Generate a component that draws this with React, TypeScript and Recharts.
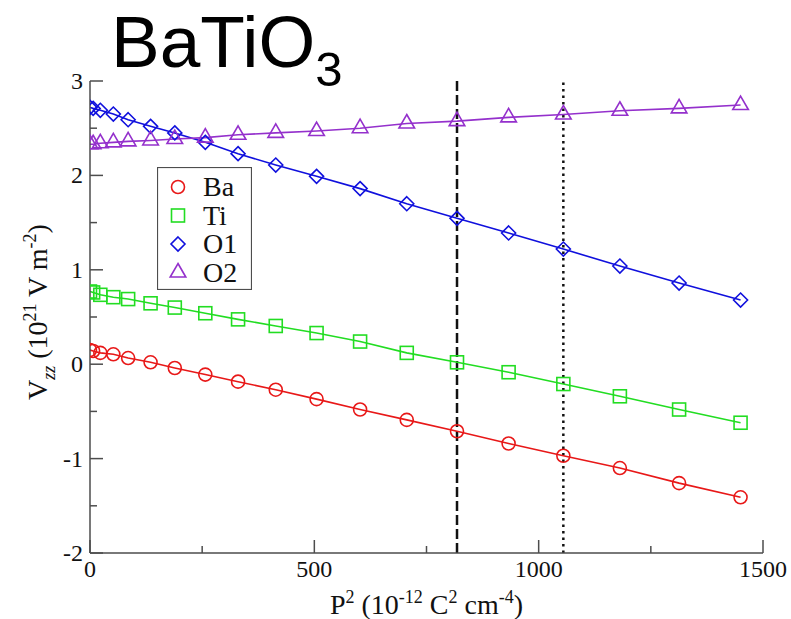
import { LineChart, Line, XAxis, YAxis, ReferenceLine, Legend, Label } from 'recharts'

const P2 = [0, 7, 23, 52, 85, 135, 189, 257, 330, 414, 505, 602, 706, 818, 933, 1055, 1181, 1313, 1450]
const BA = [0.15, 0.14, 0.12, 0.105, 0.065, 0.02, -0.04, -0.11, -0.185, -0.27, -0.37, -0.48, -0.59, -0.71, -0.84, -0.97, -1.1, -1.26, -1.41]
const TI = [0.77, 0.76, 0.735, 0.71, 0.69, 0.645, 0.6, 0.54, 0.475, 0.405, 0.33, 0.24, 0.12, 0.02, -0.085, -0.21, -0.34, -0.48, -0.62]
const O1 = [2.72, 2.71, 2.69, 2.65, 2.59, 2.52, 2.45, 2.35, 2.23, 2.11, 1.99, 1.86, 1.7, 1.545, 1.39, 1.22, 1.04, 0.86, 0.68]
const O2 = [2.33, 2.33, 2.34, 2.35, 2.36, 2.37, 2.385, 2.4, 2.43, 2.45, 2.47, 2.5, 2.55, 2.575, 2.615, 2.645, 2.685, 2.71, 2.745]

const X_TICKS = [0, 250, 500, 750, 1000, 1250, 1500]
const Y_TICKS = [-2, -1.5, -1, -0.5, 0, 0.5, 1, 1.5, 2, 2.5, 3]
const DASHED_AT = 818
const DOTTED_AT = 1055

const SERIES = [
  { key: 'Ba', color: '#e81818', shape: 'circle' },
  { key: 'Ti', color: '#22dd22', shape: 'square' },
  { key: 'O1', color: '#1010dd', shape: 'diamond' },
  { key: 'O2', color: '#9430cc', shape: 'triangle' },
]

const data = P2.map((p, i) => ({ p2: p, Ba: BA[i], Ti: TI[i], O1: O1[i], O2: O2[i] }))

const SERIF = '"Liberation Serif", "DejaVu Serif", serif'
const SANS = '"Liberation Sans", Arial, sans-serif'
const AXIS = '#4d4d4d'

function Marker({ shape, cx, cy, color }: { shape: string; cx: number; cy: number; color: string }) {
  const sw = 1.6
  if (shape === 'circle') return <circle cx={cx} cy={cy} r={6.5} fill="none" stroke={color} strokeWidth={sw} />
  if (shape === 'square') return <rect x={cx - 6.5} y={cy - 6.5} width={13} height={13} fill="none" stroke={color} strokeWidth={sw} />
  if (shape === 'diamond')
    return <polygon points={`${cx},${cy - 7} ${cx + 7},${cy} ${cx},${cy + 7} ${cx - 7},${cy}`} fill="none" stroke={color} strokeWidth={sw} />
  const s = 9
  return (
    <polygon
      points={`${cx},${cy - s} ${cx + s * 0.866},${cy + s / 2} ${cx - s * 0.866},${cy + s / 2}`}
      fill="none"
      stroke={color}
      strokeWidth={sw}
    />
  )
}

const isMajorX = (v: number) => v % 500 === 0
const isMajorY = (v: number) => Number.isInteger(v)

function BottomTick({ x, y, payload }: any) {
  const major = isMajorX(payload.value)
  return (
    <g>
      <line x1={x} y1={y} x2={x} y2={y - (major ? 13 : 7)} stroke={AXIS} strokeWidth={1.5} />
      {major && (
        <text x={x} y={y + 24} textAnchor="middle" fontSize={24} fontFamily={SERIF} fill="#111">
          {payload.value}
        </text>
      )}
    </g>
  )
}

function TopTick({ x, y, payload }: any) {
  const major = isMajorX(payload.value)
  return <line x1={x} y1={y} x2={x} y2={y + (major ? 13 : 7)} stroke={AXIS} strokeWidth={1.5} />
}

function LeftTick({ x, y, payload }: any) {
  const major = isMajorY(payload.value)
  return (
    <g>
      <line x1={x} y1={y} x2={x + (major ? 13 : 7)} y2={y} stroke={AXIS} strokeWidth={1.5} />
      {major && (
        <text x={x - 7} y={y + 8} textAnchor="end" fontSize={24} fontFamily={SERIF} fill="#111">
          {payload.value}
        </text>
      )}
    </g>
  )
}

function RightTick({ x, y, payload }: any) {
  const major = isMajorY(payload.value)
  return <line x1={x} y1={y} x2={x - (major ? 13 : 7)} y2={y} stroke={AXIS} strokeWidth={1.5} />
}

function YTitle({ viewBox }: any) {
  const cx = viewBox.x + 37
  const cy = viewBox.y + viewBox.height / 2 - 5
  return (
    <text x={cx} y={cy} transform={`rotate(-90 ${cx} ${cy})`} textAnchor="middle" fontSize={28} fontFamily={SERIF} fill="#111">
      V
      <tspan dy={8} fontSize={18} fontStyle="italic">zz</tspan>
      <tspan dy={-8}> (10</tspan>
      <tspan dy={-11} fontSize={18}>21</tspan>
      <tspan dy={11}> V m</tspan>
      <tspan dy={-11} fontSize={18}>-2</tspan>
      <tspan dy={11}>)</tspan>
    </text>
  )
}

function XTitle({ viewBox }: any) {
  const cx = viewBox.x + viewBox.width / 2
  const cy = viewBox.y + 61
  return (
    <text x={cx} y={cy} textAnchor="middle" fontSize={28} fontFamily={SERIF} fill="#111">
      P
      <tspan dy={-11} fontSize={18}>2</tspan>
      <tspan dy={11}> (10</tspan>
      <tspan dy={-11} fontSize={18}>-12</tspan>
      <tspan dy={11}> C</tspan>
      <tspan dy={-11} fontSize={18}>2</tspan>
      <tspan dy={11}> cm</tspan>
      <tspan dy={-11} fontSize={18}>-4</tspan>
      <tspan dy={11}>)</tspan>
    </text>
  )
}

function LegendBox() {
  return (
    <svg width={95} height={123} style={{ display: 'block' }}>
      <rect x={0.5} y={0.5} width={94} height={122} fill="#fff" stroke={AXIS} strokeWidth={1.2} />
      {SERIES.map((s, i) => {
        const cy = 20 + i * 28.5
        return (
          <g key={s.key}>
            <Marker shape={s.shape} cx={21} cy={cy} color={s.color} />
            <text x={46} y={cy + 9} fontSize={28} fontFamily={SERIF} fill="#111">
              {s.key}
            </text>
          </g>
        )
      })}
    </svg>
  )
}

export default function App() {
  return (
    <div style={{ position: 'absolute', left: 0, top: 0, width: 791, height: 619, background: '#fff' }}>
      <LineChart width={791} height={619} data={data} margin={{ top: 81, right: 28, bottom: 6, left: 10 }}>
        <XAxis
          dataKey="p2"
          type="number"
          domain={[0, 1500]}
          ticks={X_TICKS}
          interval={0}
          tickSize={0}
          tickMargin={0}
          tick={BottomTick}
          height={60}
          axisLine={{ stroke: AXIS, strokeWidth: 1.5 }}
          allowDataOverflow
        >
          <Label content={XTitle} />
        </XAxis>
        <XAxis
          xAxisId="top"
          orientation="top"
          type="number"
          domain={[0, 1500]}
          ticks={X_TICKS}
          interval={0}
          tickSize={0}
          tickMargin={0}
          tick={TopTick}
          height={0}
          axisLine={{ stroke: AXIS, strokeWidth: 1.5 }}
          allowDataOverflow
        />
        <YAxis
          type="number"
          domain={[-2, 3]}
          ticks={Y_TICKS}
          interval={0}
          tickSize={0}
          tickMargin={0}
          tick={LeftTick}
          width={80}
          axisLine={{ stroke: AXIS, strokeWidth: 1.5 }}
          allowDataOverflow
        >
          <Label content={YTitle} />
        </YAxis>
        <YAxis
          yAxisId="right"
          orientation="right"
          type="number"
          domain={[-2, 3]}
          ticks={Y_TICKS}
          interval={0}
          tickSize={0}
          tickMargin={0}
          tick={RightTick}
          width={0}
          axisLine={{ stroke: AXIS, strokeWidth: 1.5 }}
          allowDataOverflow
        />
        <ReferenceLine x={DASHED_AT} stroke="#111" strokeWidth={2.5} strokeDasharray="10 4" />
        <ReferenceLine x={DOTTED_AT} stroke="#111" strokeWidth={2.5} strokeDasharray="2.5 4" />
        {SERIES.map((s) => (
          <Line
            key={s.key}
            dataKey={s.key}
            type="linear"
            stroke={s.color}
            strokeWidth={1.6}
            isAnimationActive={false}
            dot={(p: any) => <Marker key={`${s.key}-${p.index}`} shape={s.shape} cx={p.cx} cy={p.cy} color={s.color} />}
            activeDot={false}
          />
        ))}
        <Legend
          layout="vertical"
          align="center"
          verticalAlign="middle"
          content={LegendBox}
          wrapperStyle={{ position: 'absolute', left: 157, top: 167, width: 95, height: 123 }}
        />
      </LineChart>
      <svg width={791} height={100} style={{ position: 'absolute', left: 0, top: 0, pointerEvents: 'none' }}>
        <text x={111} y={67} fontSize={73} fontFamily={SANS} fill="#000">
          BaTiO
          <tspan dy={19} fontSize={49}>3</tspan>
        </text>
      </svg>
    </div>
  )
}
